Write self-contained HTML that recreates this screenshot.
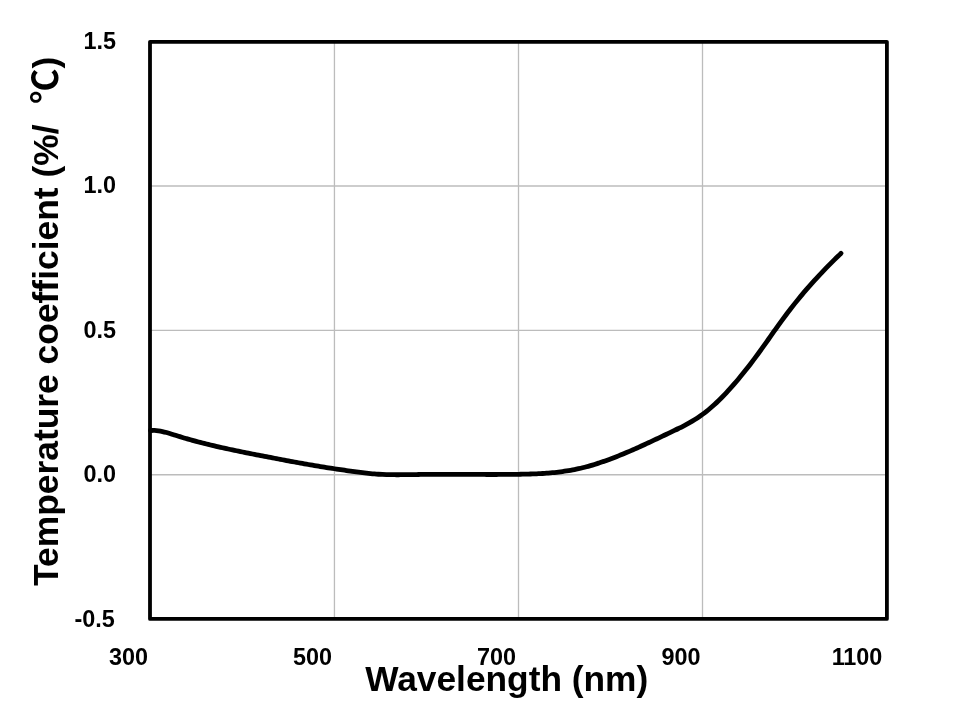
<!DOCTYPE html>
<html lang="en">
<head>
<meta charset="utf-8">
<title>Temperature coefficient vs Wavelength</title>
<style>
html,body{margin:0;padding:0;background:#fff;}
body{width:957px;height:719px;overflow:hidden;}
svg{display:block;}
text{font-family:"Liberation Sans",Arial,Helvetica,sans-serif;font-weight:bold;fill:#000;}
.tick text{font-size:23.4px;}
.title{font-size:35.3px;}
.ty{font-size:35.4px;}
.cjk{font-family:"Liberation Sans","Noto Sans CJK JP",sans-serif;font-weight:bold;font-size:35px;}
</style>
</head>
<body>
<svg width="957" height="719" viewBox="0 0 957 719">
<rect x="0" y="0" width="957" height="719" fill="#ffffff"/>
<g stroke="#bcbcbc" stroke-width="1.3" fill="none"><line x1="334.45" y1="41.80" x2="334.45" y2="618.90"/><line x1="518.50" y1="41.80" x2="518.50" y2="618.90"/><line x1="702.50" y1="41.80" x2="702.50" y2="618.90"/><line x1="150.00" y1="186.00" x2="886.90" y2="186.00"/><line x1="150.00" y1="330.45" x2="886.90" y2="330.45"/><line x1="150.00" y1="474.75" x2="886.90" y2="474.75"/></g>
<path d="M150.50,430.50 C151.17,430.50 153.17,430.41 154.50,430.46 C155.83,430.52 157.17,430.66 158.50,430.84 C159.83,431.03 161.17,431.28 162.50,431.56 C163.83,431.84 165.17,432.18 166.50,432.53 C167.83,432.89 169.17,433.29 170.50,433.69 C171.83,434.09 173.17,434.52 174.50,434.94 C175.83,435.36 177.17,435.79 178.50,436.20 C179.83,436.62 181.17,437.03 182.50,437.43 C183.83,437.84 185.17,438.23 186.50,438.62 C187.83,439.01 189.17,439.39 190.50,439.77 C191.83,440.14 193.17,440.51 194.50,440.88 C195.83,441.24 197.17,441.60 198.50,441.95 C199.83,442.30 201.17,442.65 202.50,442.99 C203.83,443.33 205.17,443.66 206.50,443.99 C207.83,444.32 209.17,444.65 210.50,444.97 C211.83,445.29 213.17,445.61 214.50,445.92 C215.83,446.24 217.17,446.54 218.50,446.85 C219.83,447.15 221.17,447.45 222.50,447.75 C223.83,448.05 225.17,448.34 226.50,448.63 C227.83,448.93 229.17,449.21 230.50,449.50 C231.83,449.78 233.17,450.07 234.50,450.35 C235.83,450.63 237.17,450.90 238.50,451.18 C239.83,451.45 241.17,451.73 242.50,452.00 C243.83,452.27 245.17,452.54 246.50,452.80 C247.83,453.07 249.17,453.34 250.50,453.60 C251.83,453.86 253.17,454.13 254.50,454.39 C255.83,454.65 257.17,454.91 258.50,455.17 C259.83,455.42 261.17,455.68 262.50,455.94 C263.83,456.20 265.17,456.45 266.50,456.71 C267.83,456.96 269.17,457.22 270.50,457.47 C271.83,457.73 273.17,457.98 274.50,458.24 C275.83,458.49 277.17,458.75 278.50,459.00 C279.83,459.26 281.17,459.51 282.50,459.76 C283.83,460.01 285.17,460.27 286.50,460.52 C287.83,460.77 289.17,461.02 290.50,461.27 C291.83,461.52 293.17,461.77 294.50,462.01 C295.83,462.26 297.17,462.50 298.50,462.75 C299.83,462.99 301.17,463.23 302.50,463.47 C303.83,463.71 305.17,463.95 306.50,464.18 C307.83,464.42 309.17,464.65 310.50,464.88 C311.83,465.11 313.17,465.34 314.50,465.57 C315.83,465.79 317.17,466.02 318.50,466.24 C319.83,466.46 321.17,466.68 322.50,466.89 C323.83,467.10 325.17,467.32 326.50,467.52 C327.83,467.73 329.17,467.94 330.50,468.14 C331.83,468.35 333.17,468.55 334.50,468.75 C335.83,468.95 337.17,469.14 338.50,469.34 C339.83,469.54 341.17,469.73 342.50,469.93 C343.83,470.12 345.17,470.32 346.50,470.51 C347.83,470.71 349.17,470.90 350.50,471.09 C351.83,471.29 353.17,471.48 354.50,471.67 C355.83,471.86 357.17,472.04 358.50,472.22 C359.83,472.40 361.17,472.57 362.50,472.74 C363.83,472.90 365.17,473.06 366.50,473.21 C367.83,473.36 369.17,473.50 370.50,473.62 C371.83,473.75 373.17,473.87 374.50,473.97 C375.83,474.07 377.17,474.16 378.50,474.24 C379.83,474.32 381.17,474.38 382.50,474.44 C383.83,474.50 385.17,474.55 386.50,474.58 C387.83,474.62 389.17,474.65 390.50,474.68 C391.83,474.70 393.17,474.71 394.50,474.72 C395.83,474.73 397.17,474.73 398.50,474.73 C399.83,474.73 401.17,474.72 402.50,474.71 C403.83,474.70 405.17,474.69 406.50,474.67 C407.83,474.66 409.17,474.64 410.50,474.62 C411.83,474.60 413.17,474.58 414.50,474.56 C415.83,474.54 417.17,474.51 418.50,474.50 C419.83,474.48 421.17,474.46 422.50,474.44 C423.83,474.43 425.17,474.42 426.50,474.40 C427.83,474.39 429.17,474.38 430.50,474.38 C431.83,474.37 433.17,474.36 434.50,474.35 C435.83,474.35 437.17,474.35 438.50,474.34 C439.83,474.34 441.17,474.34 442.50,474.34 C443.83,474.34 445.17,474.34 446.50,474.34 C447.83,474.34 449.17,474.34 450.50,474.35 C451.83,474.35 453.17,474.35 454.50,474.36 C455.83,474.36 457.17,474.36 458.50,474.37 C459.83,474.38 461.17,474.38 462.50,474.39 C463.83,474.39 465.17,474.40 466.50,474.40 C467.83,474.41 469.17,474.42 470.50,474.42 C471.83,474.43 473.17,474.43 474.50,474.44 C475.83,474.44 477.17,474.45 478.50,474.45 C479.83,474.46 481.17,474.46 482.50,474.47 C483.83,474.47 485.17,474.47 486.50,474.48 C487.83,474.48 489.17,474.48 490.50,474.48 C491.83,474.48 493.17,474.48 494.50,474.48 C495.83,474.48 497.17,474.47 498.50,474.47 C499.83,474.47 501.17,474.46 502.50,474.45 C503.83,474.45 505.17,474.44 506.50,474.43 C507.83,474.42 509.17,474.41 510.50,474.39 C511.83,474.38 513.17,474.37 514.50,474.35 C515.83,474.33 517.17,474.31 518.50,474.29 C519.83,474.27 521.17,474.25 522.50,474.22 C523.83,474.19 525.17,474.17 526.50,474.13 C527.83,474.10 529.17,474.06 530.50,474.02 C531.83,473.98 533.17,473.93 534.50,473.88 C535.83,473.82 537.17,473.77 538.50,473.70 C539.83,473.63 541.17,473.56 542.50,473.48 C543.83,473.40 545.17,473.31 546.50,473.21 C547.83,473.12 549.17,473.01 550.50,472.90 C551.83,472.78 553.17,472.65 554.50,472.52 C555.83,472.38 557.17,472.23 558.50,472.07 C559.83,471.92 561.17,471.75 562.50,471.56 C563.83,471.38 565.17,471.18 566.50,470.97 C567.83,470.76 569.17,470.54 570.50,470.30 C571.83,470.06 573.17,469.81 574.50,469.54 C575.83,469.28 577.17,468.99 578.50,468.69 C579.83,468.39 581.17,468.08 582.50,467.75 C583.83,467.42 585.17,467.08 586.50,466.72 C587.83,466.37 589.17,465.99 590.50,465.61 C591.83,465.23 593.17,464.83 594.50,464.42 C595.83,464.01 597.17,463.59 598.50,463.16 C599.83,462.72 601.17,462.28 602.50,461.82 C603.83,461.36 605.17,460.90 606.50,460.42 C607.83,459.94 609.17,459.45 610.50,458.95 C611.83,458.46 613.17,457.95 614.50,457.43 C615.83,456.92 617.17,456.39 618.50,455.86 C619.83,455.32 621.17,454.78 622.50,454.23 C623.83,453.68 625.17,453.12 626.50,452.56 C627.83,452.00 629.17,451.43 630.50,450.85 C631.83,450.27 633.17,449.69 634.50,449.10 C635.83,448.51 637.17,447.92 638.50,447.32 C639.83,446.72 641.17,446.11 642.50,445.50 C643.83,444.90 645.17,444.28 646.50,443.67 C647.83,443.05 649.17,442.43 650.50,441.81 C651.83,441.19 653.17,440.56 654.50,439.94 C655.83,439.31 657.17,438.68 658.50,438.05 C659.83,437.42 661.17,436.79 662.50,436.16 C663.83,435.52 665.17,434.89 666.50,434.26 C667.83,433.62 669.17,432.99 670.50,432.36 C671.83,431.72 673.17,431.09 674.50,430.45 C675.83,429.82 677.17,429.18 678.50,428.52 C679.83,427.86 681.17,427.20 682.50,426.52 C683.83,425.84 685.17,425.15 686.50,424.42 C687.83,423.70 689.17,422.97 690.50,422.20 C691.83,421.43 693.17,420.64 694.50,419.81 C695.83,418.98 697.17,418.12 698.50,417.22 C699.83,416.32 701.17,415.38 702.50,414.40 C703.83,413.42 705.17,412.40 706.50,411.33 C707.83,410.27 709.17,409.16 710.50,408.01 C711.83,406.87 713.17,405.68 714.50,404.46 C715.83,403.24 717.17,401.98 718.50,400.69 C719.83,399.40 721.17,398.07 722.50,396.71 C723.83,395.35 725.17,393.95 726.50,392.53 C727.83,391.11 729.17,389.65 730.50,388.17 C731.83,386.69 733.17,385.17 734.50,383.63 C735.83,382.09 737.17,380.53 738.50,378.93 C739.83,377.34 741.17,375.72 742.50,374.07 C743.83,372.43 745.17,370.76 746.50,369.07 C747.83,367.37 749.17,365.66 750.50,363.92 C751.83,362.18 753.17,360.41 754.50,358.63 C755.83,356.85 757.17,355.04 758.50,353.21 C759.83,351.39 761.17,349.54 762.50,347.68 C763.83,345.82 765.17,343.95 766.50,342.07 C767.83,340.19 769.17,338.29 770.50,336.41 C771.83,334.52 773.17,332.62 774.50,330.74 C775.83,328.86 777.17,326.98 778.50,325.12 C779.83,323.26 781.17,321.41 782.50,319.59 C783.83,317.77 785.17,315.97 786.50,314.20 C787.83,312.43 789.17,310.68 790.50,308.96 C791.83,307.24 793.17,305.54 794.50,303.86 C795.83,302.19 797.17,300.54 798.50,298.91 C799.83,297.28 801.17,295.68 802.50,294.10 C803.83,292.51 805.17,290.95 806.50,289.41 C807.83,287.87 809.17,286.35 810.50,284.85 C811.83,283.35 813.17,281.86 814.50,280.40 C815.83,278.93 817.17,277.48 818.50,276.05 C819.83,274.61 821.17,273.19 822.50,271.79 C823.83,270.39 825.17,269.00 826.50,267.63 C827.83,266.26 829.17,264.90 830.50,263.56 C831.83,262.22 833.17,260.89 834.50,259.58 C835.83,258.27 837.42,256.73 838.50,255.69 C839.58,254.64 840.58,253.70 841.00,253.30" fill="none" stroke="#000" stroke-width="4.8" stroke-linecap="round" stroke-linejoin="round"/>
<rect x="150.0" y="41.8" width="736.90" height="577.10" fill="none" stroke="#000" stroke-width="3.8" stroke-linejoin="round"/>
<g class="tick"><text x="116.0" y="48.6" text-anchor="end">1.5</text><text x="116.0" y="193.0" text-anchor="end">1.0</text><text x="116.0" y="337.5" text-anchor="end">0.5</text><text x="116.0" y="482.0" text-anchor="end">0.0</text><text x="114.8" y="626.5" text-anchor="end">-0.5</text><text x="128.5" y="665.3" text-anchor="middle">300</text><text x="312.5" y="665.3" text-anchor="middle">500</text><text x="496.5" y="665.3" text-anchor="middle">700</text><text x="680.9" y="665.3" text-anchor="middle">900</text><text x="857.0" y="665.3" text-anchor="middle">1100</text></g>
<text class="title" x="365.2" y="691.4">Wavelength (nm)</text>
<g transform="translate(58.2,586) rotate(-90)">
<text class="title ty" x="0" y="0">Temperature coefficient (%/<tspan class="cjk" x="482.2">℃</tspan><tspan x="517.6">)</tspan></text>
</g>
</svg>
</body>
</html>
